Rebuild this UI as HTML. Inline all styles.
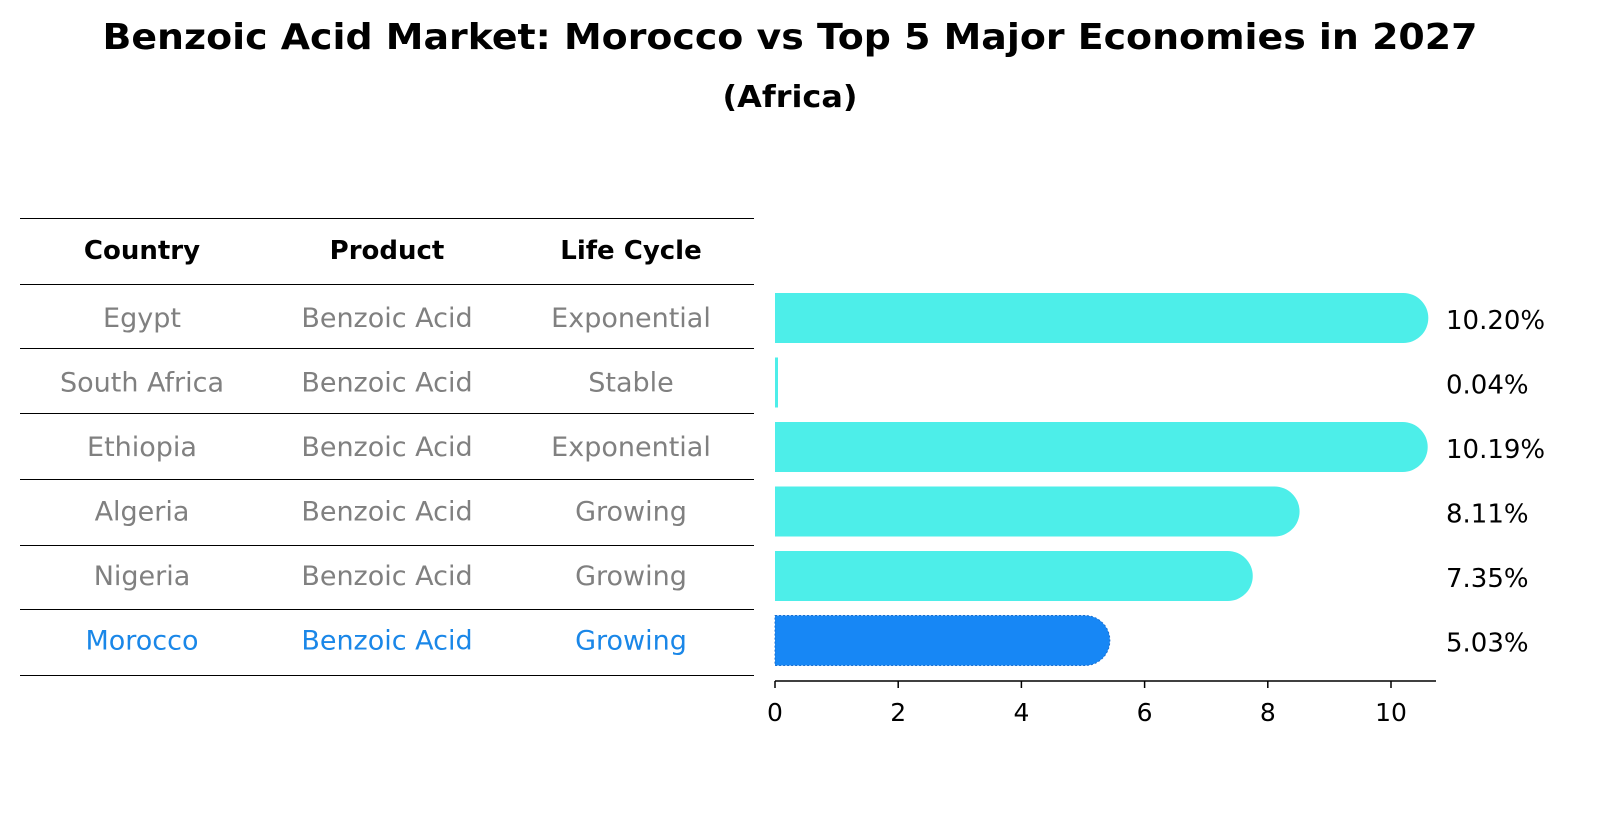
<!DOCTYPE html>
<html><head><meta charset="utf-8"><style>
body{margin:0;background:#fff;}
svg text{font-family:"DejaVu Sans","Liberation Sans",sans-serif;}
</style></head><body>
<svg width="1604" height="823" xmlns="http://www.w3.org/2000/svg">
<text x="790" y="49" text-anchor="middle" font-size="36" font-weight="bold" textLength="1375" lengthAdjust="spacingAndGlyphs">Benzoic Acid Market: Morocco vs Top 5 Major Economies in 2027</text>
<text x="790" y="107" text-anchor="middle" font-size="30" font-weight="bold" textLength="135" lengthAdjust="spacingAndGlyphs">(Africa)</text>
<g id="table"></g>
<g id="bars"></g>
<g id="axis"></g>
</svg>
<script>
const countries=["Egypt","South Africa","Ethiopia","Algeria","Nigeria","Morocco"];
const products=["Benzoic Acid","Benzoic Acid","Benzoic Acid","Benzoic Acid","Benzoic Acid","Benzoic Acid"];
const lifecycles=["Exponential","Stable","Exponential","Growing","Growing","Growing"];
const values=[10.20,0.04,10.19,8.11,7.35,5.03];
const labels=["10.20%","0.04%","10.19%","8.11%","7.35%","5.03%"];
const ticks=[0,2,4,6,8,10];
const NS="http://www.w3.org/2000/svg";
function mk(t,a,p){const e=document.createElementNS(NS,t);for(const k in a)e.setAttribute(k,a[k]);p.appendChild(e);return e;}
const x=v=>775+v*61.6;
const rowY=i=>318+i*64.5;
const tbl=document.getElementById('table'),bars=document.getElementById('bars'),ax=document.getElementById('axis');
const lines=[218,284,348,413,479,545,609,675];
lines.forEach(y=>{const l=mk('line',{x1:20,x2:754,y1:y+0.5,y2:y+0.5,stroke:'#000','stroke-width':1,'shape-rendering':'crispEdges'},tbl);

});
const cx=[142,387,631];
["Country","Product","Life Cycle"].forEach((h,j)=>{const t=mk('text',{x:cx[j],y:259,'text-anchor':'middle','font-size':26,'font-weight':'bold'},tbl);t.textContent=h;

});
countries.forEach((c,i)=>{
 const last=i===countries.length-1;
 const col=last?'#1a87e8':'#808080';
 [c,products[i],lifecycles[i]].forEach((s,j)=>{const t=mk('text',{x:cx[j],y:rowY(i)+9,'text-anchor':'middle','font-size':27,fill:col},tbl);t.textContent=s;
 
 });
 const w=x(values[i])-x(0), y0=rowY(i)-25, h=50;
 const fill=last?'#1787f5':'#4deee9';
 let d;
 if(w>=25){d=`M${x(0)},${y0} H${x(values[i])} A25,25 0 0 1 ${x(values[i])},${y0+h} H${x(0)} Z`;}
 else{d=`M${x(0)},${y0} H${x(0)+Math.max(w,3)} V${y0+h} H${x(0)} Z`;}
 const b=mk('path',{d:d,fill:fill},bars);
 if(last){b.setAttribute('stroke','#1a6fd0');b.setAttribute('stroke-dasharray','2,2');}
 
 
 const t=mk('text',{x:1446,y:rowY(i)+11,'font-size':26,fill:'#000'},bars);t.textContent=labels[i];
 
 
});
const al=mk('line',{x1:775,x2:1436,y1:681,y2:681,stroke:'#000','stroke-width':1.5},ax);


ticks.forEach(v=>{const l=mk('line',{x1:x(v),x2:x(v),y1:681,y2:688,stroke:'#000','stroke-width':1.5},ax);


const t=mk('text',{x:x(v),y:721,'text-anchor':'middle','font-size':25},ax);t.textContent=v;

});
</script>
</body></html>
